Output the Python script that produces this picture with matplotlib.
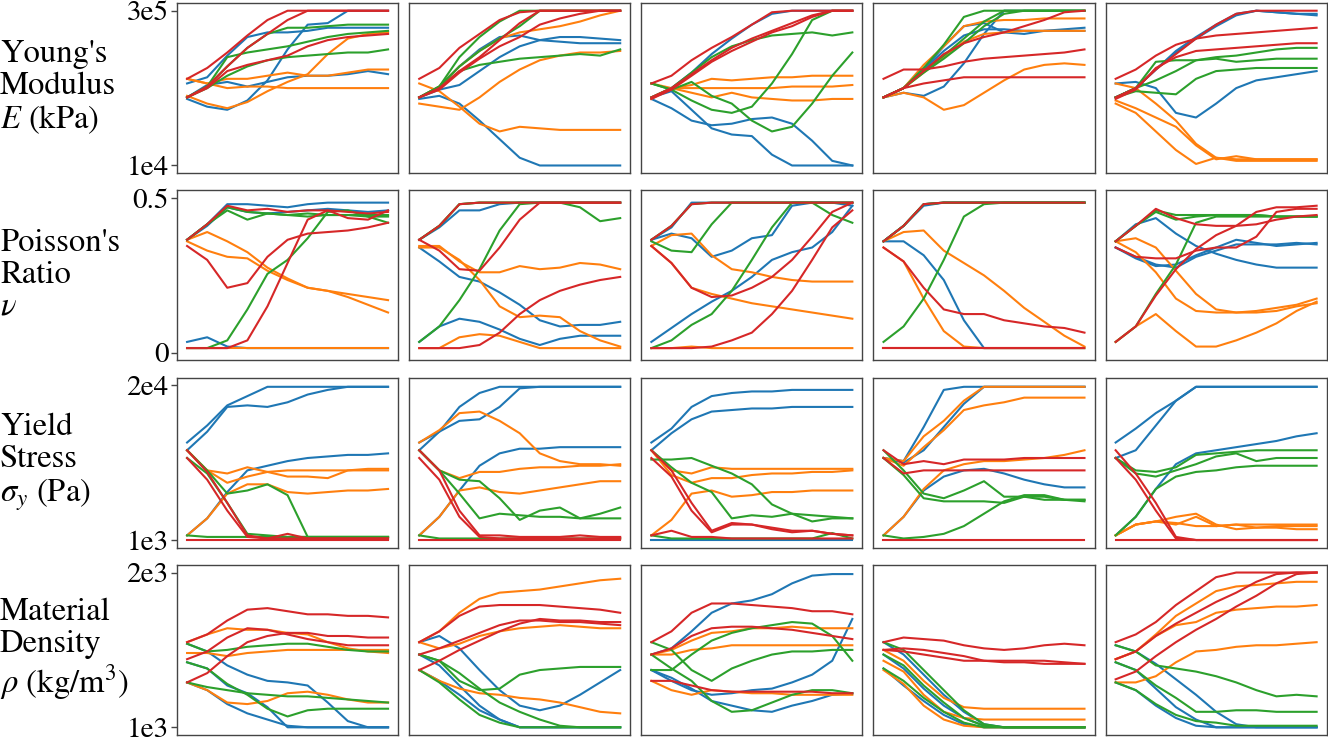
import matplotlib.pyplot as plt

plt.rcParams['font.family'] = ['STIXGeneral', 'DejaVu Serif']
plt.rcParams['mathtext.fontset'] = 'stix'

# normalised time steps of the runs
steps = [0.0, 0.1, 0.2, 0.3, 0.4, 0.5, 0.6, 0.7, 0.8, 0.9, 1.0]

row_labels = ["Young's\nModulus\n$E$ (kPa)",
              "Poisson's\nRatio\n$\\nu$",
              "Yield\nStress\n$\\sigma_y$ (Pa)",
              "Material\nDensity\n$\\rho$ (kg/m$^3$)"]
tick_labels = [['1e4', '3e5'], ['0', '0.5'], ['1e3', '2e4'], ['1e3', '2e3']]
colors = ['#1f77b4', '#ff7f0e', '#2ca02c', '#d62728']

# each panel: 12 runs (3 blue, 3 orange, 3 green, 3 red), value as fraction of the parameter range
youngs_1 = [
    [0.53, 0.57, 0.71, 0.83, 0.86, 0.86, 0.87, 0.89, 0.89, 0.89, 0.89],
    [0.43, 0.38, 0.36, 0.42, 0.55, 0.75, 0.91, 0.92, 1.00, 1.00, 1.00],
    [0.44, 0.52, 0.54, 0.51, 0.54, 0.57, 0.58, 0.58, 0.59, 0.61, 0.59],
    [0.56, 0.53, 0.50, 0.51, 0.51, 0.50, 0.50, 0.50, 0.50, 0.50, 0.50],
    [0.45, 0.40, 0.37, 0.41, 0.48, 0.54, 0.59, 0.72, 0.82, 0.85, 0.86],
    [0.56, 0.53, 0.56, 0.56, 0.58, 0.60, 0.58, 0.58, 0.60, 0.62, 0.62],
    [0.44, 0.51, 0.64, 0.76, 0.85, 0.89, 0.89, 0.90, 0.91, 0.91, 0.91],
    [0.44, 0.51, 0.70, 0.73, 0.75, 0.77, 0.80, 0.83, 0.85, 0.86, 0.87],
    [0.44, 0.50, 0.58, 0.64, 0.68, 0.70, 0.71, 0.72, 0.73, 0.73, 0.75],
    [0.56, 0.63, 0.73, 0.84, 0.94, 1.00, 1.00, 1.00, 1.00, 1.00, 1.00],
    [0.44, 0.51, 0.64, 0.76, 0.85, 0.94, 1.00, 1.00, 1.00, 1.00, 1.00],
    [0.44, 0.50, 0.61, 0.65, 0.68, 0.71, 0.77, 0.81, 0.83, 0.84, 0.85],
]
youngs_2 = [
    [0.43, 0.45, 0.40, 0.29, 0.17, 0.05, 0.00, 0.00, 0.00, 0.00, 0.00],
    [0.44, 0.49, 0.52, 0.61, 0.70, 0.77, 0.81, 0.83, 0.83, 0.82, 0.81],
    [0.44, 0.51, 0.64, 0.75, 0.83, 0.84, 0.81, 0.80, 0.79, 0.79, 0.79],
    [0.53, 0.48, 0.38, 0.27, 0.22, 0.25, 0.24, 0.23, 0.23, 0.23, 0.23],
    [0.40, 0.38, 0.36, 0.44, 0.54, 0.62, 0.68, 0.71, 0.73, 0.73, 0.74],
    [0.44, 0.51, 0.64, 0.74, 0.82, 0.86, 0.88, 0.90, 0.93, 0.97, 1.00],
    [0.44, 0.51, 0.70, 0.83, 0.93, 1.00, 1.00, 1.00, 1.00, 1.00, 1.00],
    [0.44, 0.51, 0.64, 0.74, 0.82, 0.90, 1.00, 1.00, 1.00, 1.00, 1.00],
    [0.44, 0.50, 0.61, 0.65, 0.67, 0.69, 0.70, 0.71, 0.72, 0.71, 0.75],
    [0.56, 0.63, 0.76, 0.85, 0.94, 0.99, 1.00, 1.00, 1.00, 1.00, 1.00],
    [0.44, 0.50, 0.61, 0.70, 0.81, 0.92, 1.00, 1.00, 1.00, 1.00, 1.00],
    [0.44, 0.49, 0.60, 0.69, 0.77, 0.83, 0.91, 0.95, 0.98, 1.00, 1.00],
]
youngs_3 = [
    [0.44, 0.50, 0.60, 0.72, 0.82, 0.91, 0.98, 1.00, 1.00, 1.00, 1.00],
    [0.43, 0.37, 0.29, 0.26, 0.27, 0.30, 0.31, 0.27, 0.16, 0.03, 0.00],
    [0.44, 0.48, 0.36, 0.24, 0.20, 0.19, 0.07, 0.00, 0.00, 0.00, 0.00],
    [0.53, 0.50, 0.52, 0.56, 0.55, 0.56, 0.57, 0.57, 0.58, 0.58, 0.58],
    [0.44, 0.50, 0.50, 0.50, 0.50, 0.50, 0.50, 0.51, 0.51, 0.51, 0.52],
    [0.43, 0.50, 0.47, 0.44, 0.47, 0.44, 0.43, 0.42, 0.42, 0.43, 0.43],
    [0.53, 0.49, 0.54, 0.45, 0.40, 0.29, 0.22, 0.25, 0.40, 0.58, 0.73],
    [0.53, 0.49, 0.42, 0.36, 0.34, 0.38, 0.53, 0.72, 0.94, 1.00, 1.00],
    [0.44, 0.50, 0.60, 0.70, 0.77, 0.81, 0.84, 0.85, 0.86, 0.84, 0.86],
    [0.53, 0.58, 0.68, 0.76, 0.83, 0.91, 0.99, 1.00, 1.00, 1.00, 1.00],
    [0.44, 0.50, 0.59, 0.68, 0.76, 0.82, 0.87, 0.92, 0.97, 1.00, 1.00],
    [0.43, 0.49, 0.58, 0.67, 0.74, 0.80, 0.86, 0.90, 0.96, 1.00, 1.00],
]
youngs_4 = [
    [0.44, 0.50, 0.62, 0.77, 0.90, 0.92, 0.86, 0.85, 0.87, 0.88, 0.89],
    [0.44, 0.47, 0.45, 0.51, 0.66, 0.85, 1.00, 1.00, 1.00, 1.00, 1.00],
    [0.44, 0.50, 0.62, 0.74, 0.84, 0.88, 0.88, 0.87, 0.87, 0.87, 0.87],
    [0.44, 0.50, 0.65, 0.77, 0.90, 0.93, 0.94, 0.94, 0.95, 0.95, 0.95],
    [0.44, 0.50, 0.60, 0.70, 0.80, 0.85, 0.86, 0.87, 0.87, 0.87, 0.87],
    [0.44, 0.47, 0.44, 0.36, 0.39, 0.47, 0.55, 0.62, 0.65, 0.66, 0.65],
    [0.44, 0.50, 0.63, 0.78, 0.96, 1.00, 1.00, 1.00, 1.00, 1.00, 1.00],
    [0.44, 0.50, 0.61, 0.71, 0.82, 0.93, 1.00, 1.00, 1.00, 1.00, 1.00],
    [0.44, 0.50, 0.60, 0.69, 0.79, 0.90, 0.98, 1.00, 1.00, 1.00, 1.00],
    [0.56, 0.62, 0.62, 0.64, 0.67, 0.69, 0.70, 0.71, 0.72, 0.73, 0.75],
    [0.44, 0.50, 0.53, 0.55, 0.57, 0.57, 0.57, 0.57, 0.57, 0.57, 0.57],
    [0.44, 0.50, 0.61, 0.72, 0.79, 0.83, 0.86, 0.90, 0.94, 0.99, 1.00],
]
youngs_5 = [
    [0.44, 0.50, 0.62, 0.74, 0.83, 0.91, 0.98, 1.00, 0.99, 0.98, 0.98],
    [0.53, 0.54, 0.50, 0.34, 0.31, 0.40, 0.50, 0.55, 0.57, 0.59, 0.61],
    [0.44, 0.50, 0.62, 0.73, 0.82, 0.90, 0.97, 1.00, 0.99, 0.98, 0.97],
    [0.53, 0.50, 0.40, 0.29, 0.14, 0.05, 0.04, 0.04, 0.04, 0.04, 0.04],
    [0.42, 0.37, 0.31, 0.25, 0.13, 0.04, 0.06, 0.04, 0.04, 0.04, 0.04],
    [0.40, 0.34, 0.22, 0.10, 0.01, 0.05, 0.03, 0.03, 0.03, 0.03, 0.03],
    [0.44, 0.50, 0.67, 0.68, 0.68, 0.70, 0.71, 0.73, 0.75, 0.76, 0.76],
    [0.44, 0.50, 0.55, 0.61, 0.68, 0.69, 0.67, 0.68, 0.69, 0.69, 0.69],
    [0.44, 0.48, 0.47, 0.46, 0.56, 0.61, 0.62, 0.63, 0.63, 0.63, 0.63],
    [0.56, 0.62, 0.71, 0.78, 0.82, 0.84, 0.85, 0.86, 0.87, 0.88, 0.89],
    [0.44, 0.50, 0.62, 0.72, 0.82, 0.91, 0.98, 1.00, 1.00, 1.00, 1.00],
    [0.43, 0.49, 0.63, 0.70, 0.74, 0.75, 0.76, 0.77, 0.78, 0.79, 0.79],
]

poisson_1 = [
    [0.73, 0.83, 0.96, 0.96, 0.95, 0.94, 0.96, 0.97, 0.97, 0.97, 0.97],
    [0.73, 0.82, 0.94, 0.91, 0.90, 0.91, 0.92, 0.93, 0.92, 0.91, 0.92],
    [0.07, 0.10, 0.04, 0.03, 0.03, 0.03, 0.03, 0.03, 0.03, 0.03, 0.03],
    [0.73, 0.78, 0.72, 0.65, 0.55, 0.48, 0.42, 0.40, 0.38, 0.36, 0.34],
    [0.72, 0.66, 0.62, 0.61, 0.53, 0.47, 0.42, 0.40, 0.36, 0.31, 0.26],
    [0.03, 0.03, 0.03, 0.03, 0.03, 0.03, 0.03, 0.03, 0.03, 0.03, 0.03],
    [0.73, 0.83, 0.92, 0.86, 0.90, 0.89, 0.90, 0.89, 0.89, 0.88, 0.88],
    [0.73, 0.83, 0.94, 0.91, 0.90, 0.89, 0.88, 0.89, 0.89, 0.89, 0.89],
    [0.03, 0.03, 0.08, 0.28, 0.51, 0.60, 0.74, 0.91, 0.92, 0.88, 0.84],
    [0.73, 0.83, 0.95, 0.92, 0.93, 0.91, 0.92, 0.92, 0.87, 0.86, 0.92],
    [0.69, 0.60, 0.42, 0.45, 0.62, 0.73, 0.77, 0.78, 0.79, 0.81, 0.84],
    [0.03, 0.03, 0.03, 0.08, 0.30, 0.58, 0.86, 0.92, 0.91, 0.90, 0.91],
]
poisson_2 = [
    [0.73, 0.81, 0.92, 0.92, 0.96, 0.97, 0.97, 0.97, 0.97, 0.97, 0.97],
    [0.68, 0.59, 0.49, 0.46, 0.39, 0.31, 0.21, 0.17, 0.18, 0.18, 0.20],
    [0.07, 0.17, 0.22, 0.20, 0.15, 0.09, 0.05, 0.09, 0.11, 0.11, 0.11],
    [0.69, 0.69, 0.59, 0.52, 0.52, 0.56, 0.54, 0.55, 0.58, 0.57, 0.54],
    [0.68, 0.68, 0.60, 0.47, 0.30, 0.23, 0.24, 0.23, 0.14, 0.08, 0.04],
    [0.03, 0.03, 0.10, 0.12, 0.11, 0.07, 0.03, 0.03, 0.03, 0.03, 0.03],
    [0.07, 0.17, 0.34, 0.54, 0.79, 0.96, 0.97, 0.97, 0.94, 0.85, 0.87],
    [0.73, 0.82, 0.96, 0.97, 0.97, 0.97, 0.97, 0.97, 0.97, 0.97, 0.97],
    [0.73, 0.82, 0.96, 0.97, 0.97, 0.97, 0.97, 0.97, 0.97, 0.97, 0.97],
    [0.73, 0.82, 0.96, 0.97, 0.97, 0.97, 0.97, 0.97, 0.97, 0.97, 0.97],
    [0.73, 0.66, 0.54, 0.53, 0.68, 0.86, 0.97, 0.97, 0.97, 0.97, 0.97],
    [0.03, 0.03, 0.03, 0.05, 0.13, 0.25, 0.34, 0.40, 0.44, 0.47, 0.49],
]
poisson_3 = [
    [0.73, 0.81, 0.97, 0.97, 0.97, 0.97, 0.97, 0.97, 0.97, 0.97, 0.97],
    [0.73, 0.77, 0.74, 0.62, 0.66, 0.74, 0.76, 0.95, 0.97, 0.97, 0.95],
    [0.07, 0.16, 0.25, 0.33, 0.40, 0.49, 0.60, 0.65, 0.68, 0.78, 0.95],
    [0.69, 0.76, 0.77, 0.63, 0.54, 0.52, 0.49, 0.47, 0.46, 0.46, 0.46],
    [0.69, 0.58, 0.42, 0.38, 0.35, 0.32, 0.30, 0.28, 0.26, 0.24, 0.22],
    [0.03, 0.03, 0.04, 0.03, 0.03, 0.03, 0.03, 0.03, 0.03, 0.03, 0.03],
    [0.72, 0.66, 0.65, 0.83, 0.97, 0.97, 0.97, 0.97, 0.97, 0.97, 0.97],
    [0.03, 0.08, 0.18, 0.25, 0.40, 0.60, 0.81, 0.97, 0.97, 0.89, 0.84],
    [0.73, 0.82, 0.96, 0.97, 0.97, 0.97, 0.97, 0.97, 0.97, 0.97, 0.97],
    [0.73, 0.82, 0.96, 0.97, 0.97, 0.97, 0.97, 0.97, 0.97, 0.97, 0.97],
    [0.69, 0.58, 0.42, 0.36, 0.37, 0.42, 0.49, 0.60, 0.75, 0.91, 0.97],
    [0.03, 0.03, 0.03, 0.04, 0.08, 0.13, 0.25, 0.40, 0.60, 0.81, 0.92],
]
poisson_4 = [
    [0.72, 0.82, 0.95, 0.97, 0.97, 0.97, 0.97, 0.97, 0.97, 0.97, 0.97],
    [0.72, 0.72, 0.63, 0.47, 0.21, 0.03, 0.03, 0.03, 0.03, 0.03, 0.03],
    [0.72, 0.82, 0.96, 0.97, 0.97, 0.97, 0.97, 0.97, 0.97, 0.97, 0.97],
    [0.72, 0.78, 0.79, 0.66, 0.58, 0.50, 0.40, 0.29, 0.20, 0.11, 0.04],
    [0.68, 0.59, 0.35, 0.14, 0.04, 0.03, 0.03, 0.03, 0.03, 0.03, 0.03],
    [0.03, 0.03, 0.03, 0.03, 0.03, 0.03, 0.03, 0.03, 0.03, 0.03, 0.03],
    [0.07, 0.17, 0.35, 0.60, 0.88, 0.96, 0.97, 0.97, 0.97, 0.97, 0.97],
    [0.72, 0.82, 0.96, 0.97, 0.97, 0.97, 0.97, 0.97, 0.97, 0.97, 0.97],
    [0.72, 0.82, 0.96, 0.97, 0.97, 0.97, 0.97, 0.97, 0.97, 0.97, 0.97],
    [0.72, 0.82, 0.96, 0.97, 0.97, 0.97, 0.97, 0.97, 0.97, 0.97, 0.97],
    [0.68, 0.59, 0.42, 0.28, 0.25, 0.25, 0.21, 0.19, 0.17, 0.16, 0.13],
    [0.03, 0.03, 0.03, 0.03, 0.03, 0.03, 0.03, 0.03, 0.03, 0.03, 0.03],
]
poisson_5 = [
    [0.72, 0.83, 0.87, 0.77, 0.69, 0.64, 0.60, 0.57, 0.55, 0.55, 0.55],
    [0.68, 0.61, 0.56, 0.57, 0.63, 0.68, 0.73, 0.71, 0.69, 0.70, 0.71],
    [0.68, 0.62, 0.57, 0.55, 0.62, 0.66, 0.70, 0.70, 0.70, 0.71, 0.70],
    [0.72, 0.74, 0.68, 0.53, 0.38, 0.28, 0.26, 0.26, 0.27, 0.30, 0.32],
    [0.72, 0.65, 0.52, 0.35, 0.27, 0.26, 0.26, 0.27, 0.29, 0.31, 0.35],
    [0.07, 0.17, 0.25, 0.14, 0.04, 0.04, 0.08, 0.13, 0.19, 0.27, 0.33],
    [0.72, 0.82, 0.92, 0.89, 0.89, 0.89, 0.89, 0.89, 0.88, 0.88, 0.88],
    [0.72, 0.82, 0.91, 0.86, 0.88, 0.89, 0.89, 0.89, 0.88, 0.88, 0.88],
    [0.07, 0.17, 0.38, 0.57, 0.84, 0.88, 0.88, 0.88, 0.88, 0.88, 0.88],
    [0.72, 0.82, 0.93, 0.87, 0.83, 0.82, 0.82, 0.83, 0.86, 0.88, 0.89],
    [0.07, 0.17, 0.37, 0.54, 0.67, 0.76, 0.82, 0.91, 0.94, 0.94, 0.95],
    [0.68, 0.62, 0.61, 0.61, 0.66, 0.68, 0.68, 0.75, 0.91, 0.93, 0.93],
]

yield_1 = [
    [0.63, 0.74, 0.87, 0.93, 0.99, 0.99, 0.99, 0.99, 0.99, 0.99, 0.99],
    [0.58, 0.70, 0.86, 0.87, 0.86, 0.89, 0.94, 0.97, 0.99, 0.99, 0.99],
    [0.03, 0.14, 0.31, 0.45, 0.48, 0.51, 0.53, 0.54, 0.55, 0.55, 0.56],
    [0.03, 0.14, 0.30, 0.36, 0.36, 0.31, 0.30, 0.31, 0.32, 0.32, 0.33],
    [0.58, 0.45, 0.37, 0.41, 0.44, 0.45, 0.45, 0.45, 0.45, 0.45, 0.45],
    [0.58, 0.45, 0.43, 0.47, 0.44, 0.41, 0.41, 0.40, 0.45, 0.46, 0.46],
    [0.58, 0.45, 0.30, 0.32, 0.36, 0.29, 0.02, 0.02, 0.02, 0.02, 0.02],
    [0.53, 0.43, 0.24, 0.04, 0.03, 0.02, 0.02, 0.02, 0.02, 0.02, 0.02],
    [0.03, 0.02, 0.02, 0.02, 0.02, 0.02, 0.02, 0.02, 0.02, 0.02, 0.02],
    [0.58, 0.44, 0.24, 0.03, 0.01, 0.04, 0.01, 0.01, 0.01, 0.01, 0.01],
    [0.53, 0.39, 0.19, 0.02, 0.01, 0.01, 0.01, 0.01, 0.01, 0.01, 0.01],
    [0.00, 0.00, 0.00, 0.00, 0.00, 0.00, 0.00, 0.00, 0.00, 0.00, 0.00],
]
yield_2 = [
    [0.63, 0.70, 0.86, 0.95, 0.99, 0.99, 0.99, 0.99, 0.99, 0.99, 0.99],
    [0.58, 0.70, 0.77, 0.78, 0.86, 0.98, 0.99, 0.99, 0.99, 0.99, 0.99],
    [0.03, 0.15, 0.32, 0.48, 0.56, 0.59, 0.59, 0.60, 0.60, 0.60, 0.60],
    [0.63, 0.71, 0.82, 0.83, 0.77, 0.69, 0.56, 0.51, 0.49, 0.49, 0.48],
    [0.03, 0.15, 0.32, 0.34, 0.31, 0.30, 0.32, 0.34, 0.36, 0.38, 0.38],
    [0.58, 0.45, 0.40, 0.44, 0.44, 0.46, 0.47, 0.47, 0.48, 0.48, 0.49],
    [0.58, 0.45, 0.39, 0.38, 0.27, 0.13, 0.19, 0.21, 0.14, 0.17, 0.21],
    [0.58, 0.45, 0.30, 0.14, 0.17, 0.16, 0.15, 0.15, 0.14, 0.14, 0.14],
    [0.03, 0.01, 0.01, 0.01, 0.01, 0.01, 0.01, 0.01, 0.01, 0.01, 0.01],
    [0.58, 0.45, 0.19, 0.03, 0.03, 0.02, 0.02, 0.02, 0.03, 0.02, 0.02],
    [0.53, 0.39, 0.15, 0.02, 0.01, 0.01, 0.01, 0.01, 0.01, 0.01, 0.01],
    [0.00, 0.00, 0.00, 0.00, 0.00, 0.00, 0.00, 0.00, 0.00, 0.00, 0.00],
]
yield_3 = [
    [0.63, 0.72, 0.86, 0.93, 0.95, 0.96, 0.96, 0.97, 0.97, 0.97, 0.97],
    [0.58, 0.69, 0.78, 0.83, 0.84, 0.85, 0.85, 0.86, 0.86, 0.86, 0.86],
    [0.00, 0.00, 0.00, 0.00, 0.00, 0.00, 0.00, 0.00, 0.00, 0.00, 0.00],
    [0.03, 0.13, 0.30, 0.32, 0.28, 0.29, 0.31, 0.31, 0.32, 0.32, 0.32],
    [0.58, 0.45, 0.43, 0.47, 0.46, 0.46, 0.46, 0.46, 0.46, 0.46, 0.46],
    [0.58, 0.42, 0.37, 0.40, 0.40, 0.42, 0.43, 0.43, 0.44, 0.44, 0.45],
    [0.52, 0.52, 0.53, 0.48, 0.43, 0.36, 0.23, 0.17, 0.12, 0.14, 0.14],
    [0.58, 0.47, 0.37, 0.31, 0.14, 0.16, 0.15, 0.17, 0.16, 0.15, 0.14],
    [0.03, 0.01, 0.01, 0.01, 0.01, 0.01, 0.01, 0.01, 0.01, 0.045, 0.01],
    [0.58, 0.45, 0.24, 0.06, 0.11, 0.10, 0.08, 0.06, 0.06, 0.04, 0.03],
    [0.53, 0.41, 0.19, 0.05, 0.10, 0.10, 0.07, 0.05, 0.06, 0.04, 0.03],
    [0.03, 0.06, 0.02, 0.02, 0.01, 0.01, 0.01, 0.01, 0.01, 0.01, 0.01],
]
yield_4 = [
    [0.53, 0.51, 0.73, 0.97, 0.99, 0.99, 0.99, 0.99, 0.99, 0.99, 0.99],
    [0.53, 0.50, 0.58, 0.73, 0.88, 0.99, 0.99, 0.99, 0.99, 0.99, 0.99],
    [0.03, 0.15, 0.32, 0.41, 0.45, 0.46, 0.43, 0.39, 0.36, 0.34, 0.34],
    [0.53, 0.51, 0.67, 0.77, 0.90, 0.99, 0.99, 0.99, 0.99, 0.99, 0.99],
    [0.53, 0.48, 0.60, 0.71, 0.84, 0.87, 0.89, 0.92, 0.92, 0.92, 0.92],
    [0.03, 0.15, 0.33, 0.45, 0.49, 0.51, 0.51, 0.52, 0.53, 0.55, 0.58],
    [0.58, 0.45, 0.30, 0.27, 0.32, 0.38, 0.28, 0.28, 0.26, 0.26, 0.26],
    [0.53, 0.42, 0.27, 0.25, 0.25, 0.25, 0.24, 0.28, 0.28, 0.26, 0.26],
    [0.03, 0.01, 0.02, 0.04, 0.09, 0.17, 0.25, 0.29, 0.29, 0.26, 0.25],
    [0.58, 0.49, 0.51, 0.49, 0.52, 0.52, 0.52, 0.53, 0.53, 0.53, 0.53],
    [0.53, 0.43, 0.45, 0.45, 0.45, 0.45, 0.45, 0.45, 0.45, 0.45, 0.45],
    [0.00, 0.00, 0.00, 0.00, 0.00, 0.00, 0.00, 0.00, 0.00, 0.00, 0.00],
]
yield_5 = [
    [0.63, 0.72, 0.82, 0.90, 0.99, 0.99, 0.99, 0.99, 0.99, 0.99, 0.99],
    [0.53, 0.58, 0.74, 0.90, 0.99, 0.99, 0.99, 0.99, 0.99, 0.99, 0.99],
    [0.03, 0.15, 0.33, 0.49, 0.56, 0.58, 0.60, 0.62, 0.64, 0.67, 0.69],
    [0.03, 0.10, 0.12, 0.11, 0.09, 0.09, 0.10, 0.10, 0.10, 0.10, 0.10],
    [0.03, 0.10, 0.12, 0.15, 0.17, 0.10, 0.07, 0.08, 0.09, 0.09, 0.09],
    [0.03, 0.10, 0.12, 0.10, 0.15, 0.09, 0.10, 0.08, 0.08, 0.07, 0.07],
    [0.53, 0.45, 0.44, 0.47, 0.55, 0.56, 0.57, 0.58, 0.58, 0.58, 0.58],
    [0.53, 0.43, 0.41, 0.45, 0.49, 0.54, 0.56, 0.51, 0.53, 0.53, 0.53],
    [0.03, 0.15, 0.33, 0.41, 0.44, 0.45, 0.47, 0.48, 0.48, 0.48, 0.48],
    [0.58, 0.43, 0.24, 0.02, 0.00, 0.00, 0.00, 0.00, 0.00, 0.00, 0.00],
    [0.53, 0.39, 0.19, 0.01, 0.00, 0.00, 0.00, 0.00, 0.00, 0.00, 0.00],
    [0.00, 0.00, 0.00, 0.00, 0.00, 0.00, 0.00, 0.00, 0.00, 0.00, 0.00],
]

density_1 = [
    [0.42, 0.38, 0.27, 0.22, 0.13, 0.00, 0.00, 0.00, 0.00, 0.00, 0.00],
    [0.54, 0.49, 0.40, 0.34, 0.30, 0.29, 0.27, 0.16, 0.04, 0.00, 0.00],
    [0.29, 0.24, 0.15, 0.09, 0.05, 0.01, 0.00, 0.00, 0.00, 0.00, 0.00],
    [0.55, 0.60, 0.64, 0.63, 0.63, 0.61, 0.60, 0.55, 0.51, 0.49, 0.48],
    [0.48, 0.48, 0.46, 0.48, 0.49, 0.50, 0.50, 0.50, 0.50, 0.50, 0.50],
    [0.29, 0.24, 0.16, 0.15, 0.17, 0.22, 0.23, 0.21, 0.18, 0.16, 0.16],
    [0.54, 0.49, 0.50, 0.52, 0.53, 0.54, 0.54, 0.52, 0.50, 0.49, 0.49],
    [0.42, 0.38, 0.28, 0.21, 0.12, 0.07, 0.11, 0.12, 0.12, 0.12, 0.12],
    [0.29, 0.26, 0.24, 0.22, 0.21, 0.20, 0.20, 0.19, 0.18, 0.17, 0.16],
    [0.55, 0.60, 0.69, 0.76, 0.77, 0.75, 0.73, 0.73, 0.72, 0.72, 0.71],
    [0.44, 0.49, 0.58, 0.64, 0.63, 0.60, 0.57, 0.55, 0.53, 0.53, 0.53],
    [0.29, 0.35, 0.46, 0.55, 0.59, 0.61, 0.61, 0.59, 0.59, 0.58, 0.58],
]
density_2 = [
    [0.55, 0.59, 0.51, 0.37, 0.24, 0.14, 0.11, 0.14, 0.21, 0.29, 0.37],
    [0.47, 0.40, 0.27, 0.14, 0.05, 0.00, 0.00, 0.00, 0.00, 0.00, 0.00],
    [0.37, 0.30, 0.21, 0.11, 0.05, 0.00, 0.00, 0.00, 0.00, 0.00, 0.00],
    [0.55, 0.62, 0.74, 0.83, 0.87, 0.88, 0.89, 0.91, 0.93, 0.95, 0.96],
    [0.55, 0.51, 0.54, 0.59, 0.62, 0.64, 0.65, 0.66, 0.65, 0.64, 0.64],
    [0.37, 0.30, 0.25, 0.22, 0.21, 0.19, 0.18, 0.16, 0.13, 0.10, 0.09],
    [0.47, 0.43, 0.35, 0.25, 0.16, 0.10, 0.05, 0.01, 0.00, 0.00, 0.00],
    [0.37, 0.29, 0.18, 0.08, 0.03, 0.00, 0.00, 0.00, 0.00, 0.00, 0.00],
    [0.47, 0.43, 0.30, 0.24, 0.25, 0.34, 0.37, 0.38, 0.39, 0.39, 0.39],
    [0.55, 0.62, 0.72, 0.78, 0.79, 0.79, 0.79, 0.78, 0.77, 0.76, 0.74],
    [0.47, 0.51, 0.56, 0.61, 0.66, 0.69, 0.69, 0.68, 0.68, 0.67, 0.66],
    [0.37, 0.43, 0.50, 0.56, 0.62, 0.67, 0.70, 0.69, 0.69, 0.68, 0.68],
]
density_3 = [
    [0.47, 0.51, 0.62, 0.74, 0.80, 0.82, 0.86, 0.93, 0.98, 0.99, 0.99],
    [0.37, 0.30, 0.24, 0.21, 0.22, 0.24, 0.25, 0.29, 0.34, 0.43, 0.70],
    [0.37, 0.32, 0.25, 0.17, 0.14, 0.11, 0.10, 0.14, 0.17, 0.21, 0.22],
    [0.47, 0.50, 0.56, 0.61, 0.62, 0.64, 0.64, 0.65, 0.64, 0.64, 0.64],
    [0.47, 0.47, 0.50, 0.51, 0.53, 0.53, 0.53, 0.53, 0.53, 0.53, 0.53],
    [0.30, 0.24, 0.21, 0.24, 0.23, 0.22, 0.22, 0.21, 0.21, 0.21, 0.21],
    [0.37, 0.37, 0.47, 0.56, 0.61, 0.64, 0.66, 0.68, 0.67, 0.59, 0.43],
    [0.55, 0.50, 0.37, 0.30, 0.38, 0.43, 0.47, 0.49, 0.49, 0.50, 0.50],
    [0.47, 0.38, 0.30, 0.17, 0.10, 0.11, 0.16, 0.21, 0.24, 0.24, 0.22],
    [0.55, 0.62, 0.74, 0.80, 0.80, 0.79, 0.78, 0.77, 0.75, 0.75, 0.73],
    [0.47, 0.51, 0.59, 0.64, 0.65, 0.65, 0.64, 0.63, 0.61, 0.59, 0.57],
    [0.30, 0.30, 0.27, 0.24, 0.23, 0.23, 0.23, 0.23, 0.23, 0.22, 0.22],
]
density_4 = [
    [0.47, 0.38, 0.25, 0.14, 0.06, 0.01, 0.00, 0.00, 0.00, 0.00, 0.00],
    [0.38, 0.27, 0.17, 0.08, 0.02, 0.00, 0.00, 0.00, 0.00, 0.00, 0.00],
    [0.55, 0.47, 0.34, 0.21, 0.10, 0.02, 0.00, 0.00, 0.00, 0.00, 0.00],
    [0.50, 0.43, 0.30, 0.19, 0.13, 0.12, 0.12, 0.12, 0.12, 0.12, 0.12],
    [0.43, 0.36, 0.21, 0.10, 0.06, 0.05, 0.05, 0.05, 0.05, 0.05, 0.05],
    [0.37, 0.28, 0.14, 0.05, 0.01, 0.00, 0.00, 0.00, 0.00, 0.00, 0.00],
    [0.55, 0.50, 0.37, 0.24, 0.11, 0.02, 0.00, 0.00, 0.00, 0.00, 0.00],
    [0.47, 0.40, 0.27, 0.16, 0.06, 0.01, 0.00, 0.00, 0.00, 0.00, 0.00],
    [0.38, 0.30, 0.19, 0.10, 0.03, 0.00, 0.00, 0.00, 0.00, 0.00, 0.00],
    [0.55, 0.58, 0.57, 0.56, 0.53, 0.51, 0.50, 0.51, 0.53, 0.54, 0.53],
    [0.50, 0.51, 0.50, 0.48, 0.46, 0.43, 0.43, 0.43, 0.43, 0.42, 0.41],
    [0.50, 0.49, 0.47, 0.45, 0.43, 0.43, 0.42, 0.42, 0.41, 0.41, 0.41],
]
density_5 = [
    [0.53, 0.49, 0.41, 0.31, 0.21, 0.10, 0.02, 0.00, 0.00, 0.00, 0.00],
    [0.29, 0.24, 0.14, 0.06, 0.01, 0.00, 0.00, 0.00, 0.00, 0.00, 0.00],
    [0.42, 0.37, 0.25, 0.13, 0.05, 0.00, 0.00, 0.00, 0.00, 0.00, 0.00],
    [0.44, 0.49, 0.60, 0.72, 0.80, 0.88, 0.91, 0.92, 0.93, 0.94, 0.94],
    [0.44, 0.49, 0.59, 0.66, 0.68, 0.74, 0.76, 0.77, 0.78, 0.78, 0.79],
    [0.29, 0.29, 0.33, 0.42, 0.49, 0.50, 0.52, 0.53, 0.53, 0.54, 0.55],
    [0.53, 0.49, 0.40, 0.38, 0.36, 0.33, 0.29, 0.24, 0.20, 0.21, 0.20],
    [0.42, 0.37, 0.27, 0.19, 0.10, 0.10, 0.11, 0.11, 0.10, 0.10, 0.10],
    [0.29, 0.24, 0.15, 0.08, 0.04, 0.03, 0.01, 0.01, 0.01, 0.01, 0.01],
    [0.55, 0.60, 0.68, 0.79, 0.88, 0.97, 1.00, 1.00, 1.00, 1.00, 1.00],
    [0.44, 0.49, 0.59, 0.67, 0.74, 0.81, 0.87, 0.94, 0.99, 1.00, 1.00],
    [0.31, 0.36, 0.46, 0.55, 0.63, 0.70, 0.78, 0.85, 0.93, 0.99, 1.00],
]

rows = [
    [youngs_1, youngs_2, youngs_3, youngs_4, youngs_5],
    [poisson_1, poisson_2, poisson_3, poisson_4, poisson_5],
    [yield_1, yield_2, yield_3, yield_4, yield_5],
    [density_1, density_2, density_3, density_4, density_5],
]

fig, axes = plt.subplots(4, 5, figsize=(13.28, 7.46), dpi=100)
fig.subplots_adjust(left=0.1333, right=0.999, top=0.996, bottom=0.0147,
                    wspace=0.05, hspace=0.1)

for r in range(4):
    for c in range(5):
        ax = axes[r, c]
        runs = rows[r][c]
        for i in range(len(runs)):
            ax.plot(steps, runs[i], color=colors[i // 3], lw=1.5)
        ax.set_xlim(-0.05, 1.05)
        ax.set_ylim(-0.05, 1.05)
        ax.set_xticks([])
        for s in ax.spines.values():
            s.set_color('#444444')
            s.set_linewidth(1.0)
        if c == 0:
            ax.set_yticks([0, 1])
            ax.set_yticklabels(tick_labels[r], fontsize=21)
            ax.tick_params(axis='y', length=4, width=1, color='#444444', pad=2)
        else:
            ax.set_yticks([])
    pos = axes[r, 0].get_position()
    fig.text(0.0, (pos.y0 + pos.y1) / 2, row_labels[r], ha='left', va='center',
             fontsize=23.5, linespacing=1.1)

fig.savefig('out.png', dpi=100)
